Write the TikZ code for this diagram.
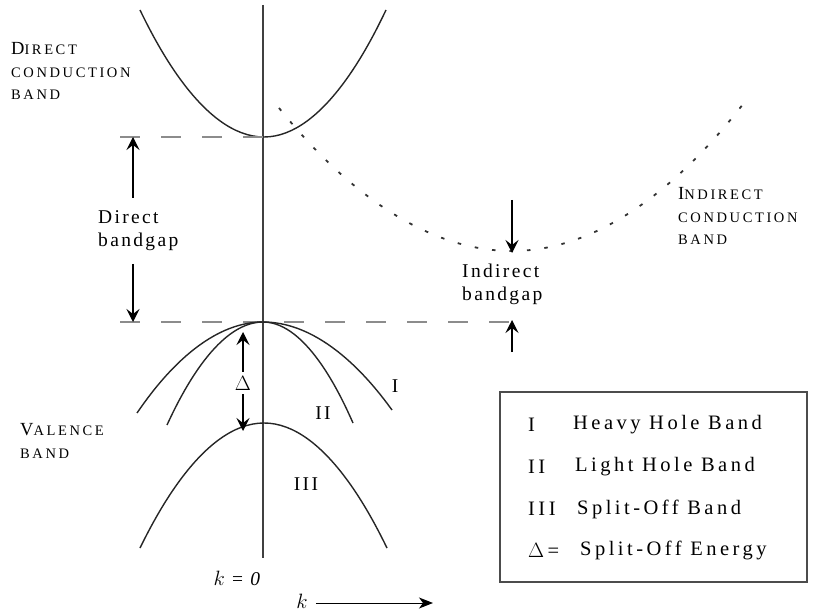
\documentclass[tikz,border=0pt]{standalone}
\usepackage{fontspec}
\setmainfont{Liberation Serif}
\usetikzlibrary{arrows.meta}
\newcommand{\bigsc}[2]{{\fontsize{18.5}{22.5}\selectfont #1}{\fontsize{14.5}{22.5}\selectfont #2}}
\newcommand{\smsc}[1]{{\fontsize{14.5}{22.5}\selectfont #1}}
\begin{document}
\begin{tikzpicture}[x=1pt,y=-1pt,
  band/.style={line width=1.4pt,black!85},
  axisline/.style={line width=2.4pt,black!75},
  gapline/.style={line width=1.2pt,black!45,dash pattern=on 20pt off 21pt},
  dotline/.style={line width=1.8pt,black!80,dash pattern=on 3.5pt off 14pt},
  gaparrow/.style={line width=1.2pt,-{Stealth[length=13pt,width=13pt,inset=5pt]}},
  sclabel/.style={align=left,inner sep=0pt,font=\fontsize{14.5}{22.5}\selectfont\addfontfeature{LetterSpace=18}},
  txt/.style={inner sep=0pt,font=\fontsize{19.5}{23}\selectfont\addfontfeature{LetterSpace=12}},
  legtxt/.style={inner sep=0pt,anchor=west,font=\fontsize{20.5}{23}\selectfont\addfontfeature{LetterSpace=17}}
]
\useasboundingbox (0,0) rectangle (814,612);
% axis
\coordinate (axtop) at (263,5);
\coordinate (axbot) at (263,558);
\draw[axisline] (axtop) -- (axbot);
% direct conduction band
\draw[band] (140,10) parabola bend (264,137) (386,10);
% indirect conduction band
\draw[dotline] (279,108) parabola bend (512,251) (750,95);
% gap dashed lines
\coordinate (dl1) at (120,137);
\coordinate (dr1) at (263,137);
\coordinate (dl2) at (120,322);
\coordinate (dr2) at (512,322);
\draw[gapline] (dl1) -- (dr1);
\draw[gapline] (dl2) -- (dr2);
% valence bands
\draw[band] (137,413) parabola bend (263,322) (392,410);
\draw[band] (167,425) parabola bend (263,322) (353,423);
\draw[band] (140,548) parabola bend (264,423) (387,548);
% labels
\node[sclabel,anchor=west] (dcb) at (11,71) {\bigsc{D}{IRECT}\\ \smsc{CONDUCTION}\\ \smsc{BAND}};
\node[sclabel,anchor=west] (icb) at (678,216) {\bigsc{I}{NDIRECT}\\ \smsc{CONDUCTION}\\ \smsc{BAND}};
\node[sclabel,anchor=west] (vb) at (20,441) {\bigsc{V}{ALENCE}\\ \smsc{BAND}};
% direct bandgap
\node[txt,align=left,anchor=west] (dbg) at (98,231) {Direct\\bandgap};
\coordinate (da1) at (133,198);
\coordinate (da1t) at (133,137);
\coordinate (da2) at (133,264);
\coordinate (da2t) at (133,322);
\draw[gaparrow] (da1) -- (da1t);
\draw[gaparrow] (da2) -- (da2t);
% indirect bandgap
\node[txt,align=left,anchor=west] (ibg) at (462,284) {Indirect\\bandgap};
\coordinate (ia1) at (512,200);
\coordinate (ia1t) at (512,253);
\coordinate (ia2) at (512,352);
\coordinate (ia2t) at (512,320);
\draw[gaparrow] (ia1) -- (ia1t);
\draw[gaparrow] (ia2) -- (ia2t);
% split-off
\node[txt] (delta) at (243,383) {$\Delta$};
\coordinate (dt) at (243,332);
\coordinate (db) at (243,431);
\draw[gaparrow] (delta.north) ++(0,-4) -- (dt);
\draw[gaparrow] (delta.south) ++(0,4) -- (db);
% band numerals
\node[txt] (lI) at (395,386) {I};
\node[txt] (lII) at (323,413) {II};
\node[txt] (lIII) at (306,484) {III};
% k labels
\node[txt] (k0) at (238,578) {$k$ = \textit{0}};
\node[txt] (kk) at (302,601) {$k$};
\coordinate (kend) at (433,603);
\draw[line width=1pt,-{Stealth[length=14pt,width=11pt,inset=4pt]}] (kk.east) ++(8,2) -- (kend);
% legend
\node[draw=black!70,line width=1.6pt,minimum width=307pt,minimum height=190pt,anchor=north west] (legend) at (499,391) {};
\node[legtxt] (r1) at (528,425) {I};
\node[legtxt] (t1) at (573,425) {Heavy Hole Band};
\node[legtxt] (r2) at (528,467) {II};
\node[legtxt] (t2) at (575,467) {Light Hole Band};
\node[legtxt] (r3) at (528,509) {III};
\node[legtxt] (t3) at (577,509) {Split-Off Band};
\node[legtxt] (r4) at (528,550) {$\Delta$\,=};
\node[legtxt] (t4) at (580,550) {Split-Off Energy};
\end{tikzpicture}
\end{document}
